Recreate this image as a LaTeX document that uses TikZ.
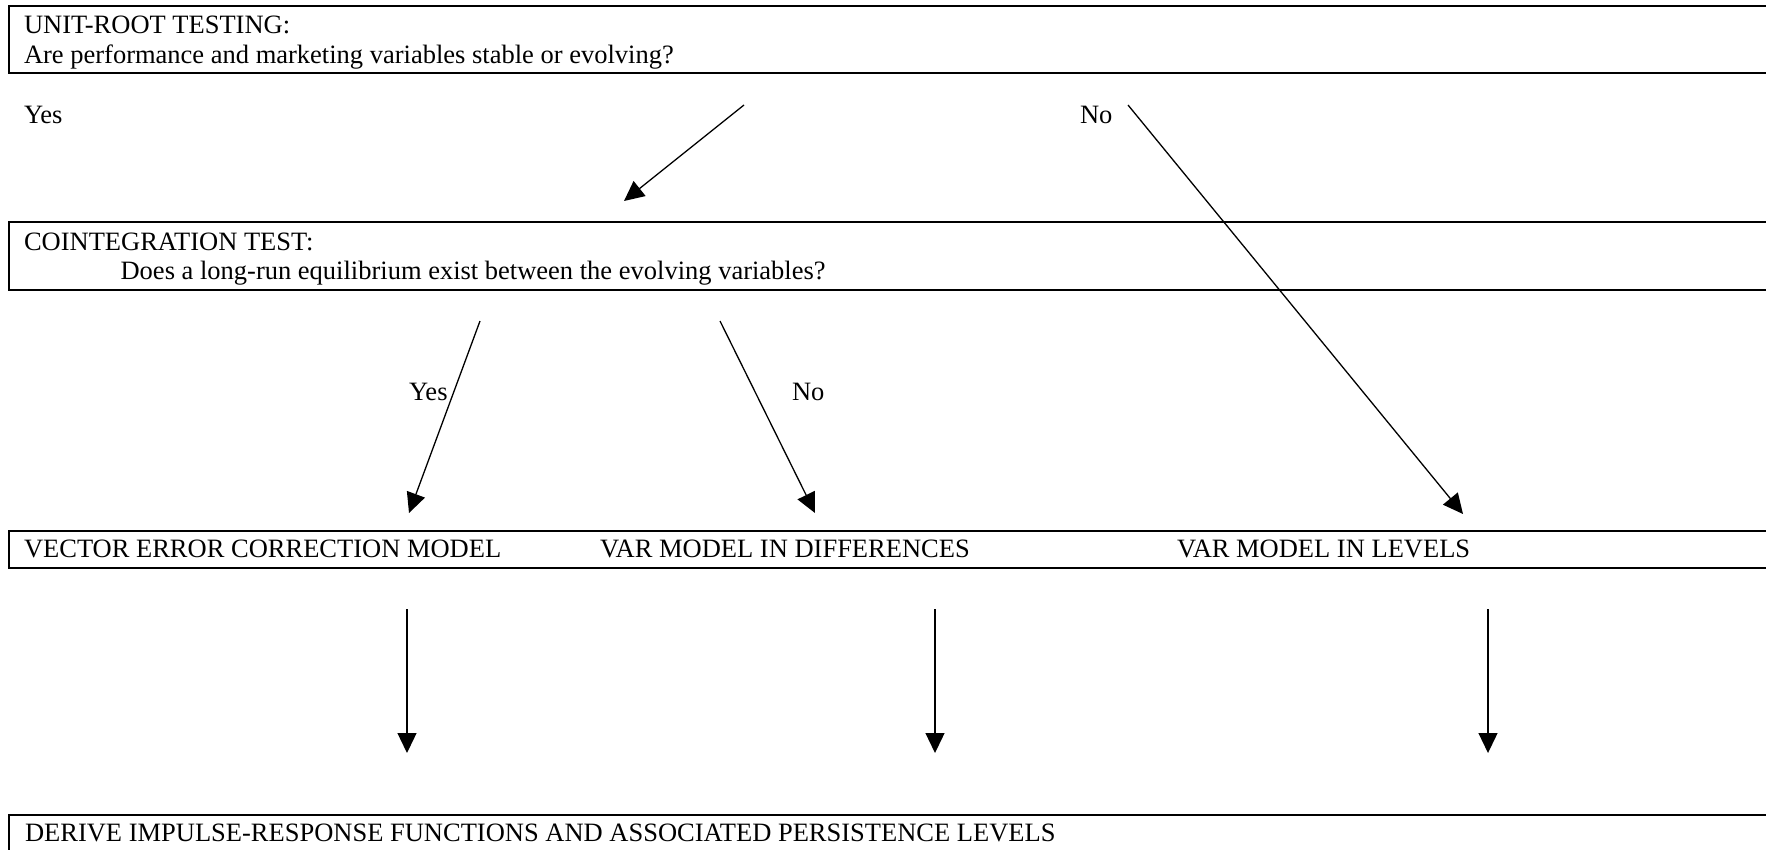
\documentclass[tikz,border=0pt]{standalone}
\usepackage{fontspec}
\setmainfont{Liberation Serif}
\usetikzlibrary{arrows.meta}
\begin{document}
\begin{tikzpicture}[x=1pt,y=-1pt,
  box/.style={draw,line width=1.8pt,rectangle,inner sep=0pt,outer sep=0pt,anchor=north west},
  txt/.style={anchor=base west,inner sep=0pt,outer sep=0pt,font=\fontsize{26.5pt}{31pt}\selectfont},
  arr/.style={line width=1.3pt,-{Triangle[length=20pt,width=19pt]}}]
\useasboundingbox (0,0) rectangle (1766,849);
\fill[white] (0,0) rectangle (1766,849);
\begin{scope}
\clip (0,0) rectangle (1766,849);
% boxes
\node[box,minimum width=1800pt,minimum height=67pt] (b1) at (8.6,6) {};
\node[box,minimum width=1800pt,minimum height=68pt] (b2) at (8.6,222) {};
\node[box,minimum width=1800pt,minimum height=37pt] (b3) at (8.6,531) {};
\node[box,minimum width=1800pt,minimum height=90pt] (b4) at (8.6,815) {};
% texts
\node[txt] (t1a) at (24,33) {UNIT-ROOT TESTING:};
\node[txt] (t1b) at (24,63) {Are performance and marketing variables stable or evolving?};
\node[txt] (yes1) at (24,123) {Yes};
\node[txt] (no1) at (1080,123) {No};
\node[txt] (t2a) at (24,250) {COINTEGRATION TEST:};
\node[txt] (t2b) at (120.6,279) {Does a long-run equilibrium exist between the evolving variables?};
\node[txt] (yes2) at (409,400) {Yes};
\node[txt] (no2) at (792,400) {No};
\node[txt] (vecm) at (24,557) {VECTOR ERROR CORRECTION MODEL};
\node[txt] (vard) at (600,557) {VAR MODEL IN DIFFERENCES};
\node[txt] (varl) at (1177,557) {VAR MODEL IN LEVELS};
\node[txt] (irf) at (25,841) {DERIVE IMPULSE-RESPONSE FUNCTIONS AND ASSOCIATED PERSISTENCE LEVELS};
% connector ends
\coordinate (a1s) at (744,105);  \coordinate (a1e) at (624,201);
\coordinate (a2s) at (1128,105); \coordinate (a2e) at (1463,514);
\coordinate (a3s) at (480,321);  \coordinate (a3e) at (409,513);
\coordinate (a4s) at (720,321);  \coordinate (a4e) at (815,513);
\coordinate (a5s) at (407,609);  \coordinate (a5e) at (407,753);
\coordinate (a6s) at (935,609);  \coordinate (a6e) at (935,753);
\coordinate (a7s) at (1488,609); \coordinate (a7e) at (1488,753);
\draw[arr] (a1s) -- (a1e);
\draw[arr] (a2s) -- (a2e);
\draw[arr] (a3s) -- (a3e);
\draw[arr] (a4s) -- (a4e);
\draw[arr] (a5s) -- (a5e);
\draw[arr] (a6s) -- (a6e);
\draw[arr] (a7s) -- (a7e);
\end{scope}
\end{tikzpicture}
\end{document}
